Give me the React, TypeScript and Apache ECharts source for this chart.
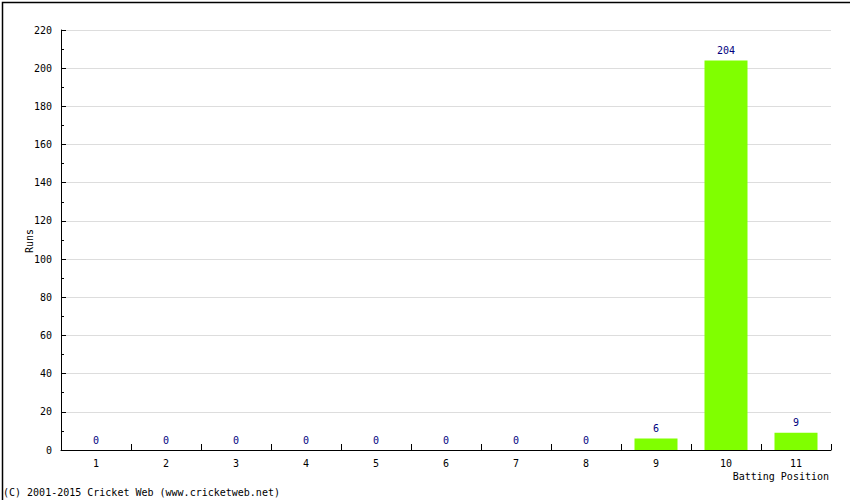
import React, { useEffect, useRef } from "react";
import * as echarts from "echarts";

const categories = ["1", "2", "3", "4", "5", "6", "7", "8", "9", "10", "11"];
const runs = [0, 0, 0, 0, 0, 0, 0, 0, 6, 204, 9];
const yTicks = { min: 0, max: 220, interval: 20 };

const FONT = "DejaVu Sans Mono";

export default function App() {
  const ref = useRef<HTMLDivElement>(null);
  useEffect(() => {
    if (!ref.current) return;
    const chart = echarts.init(ref.current, null, { renderer: "svg" });
    chart.setOption({
      animation: false,
      backgroundColor: "#ffffff",
      textStyle: { fontFamily: FONT, fontSize: 10 },
      grid: { left: 61, right: 19, top: 30, bottom: 50, containLabel: false },
      xAxis: {
        type: "category",
        data: categories,
        boundaryGap: true,
        axisLine: { show: true, lineStyle: { color: "#000", width: 1 } },
        axisTick: { show: true, inside: true, length: 6, alignWithLabel: false, lineStyle: { color: "#000" } },
        axisLabel: { color: "#000", fontFamily: FONT, fontSize: 10, margin: 8 },
        splitLine: { show: false },
      },
      yAxis: {
        type: "value",
        min: yTicks.min,
        max: yTicks.max,
        interval: yTicks.interval,
        axisLine: { show: true, lineStyle: { color: "#000", width: 1 } },
        axisTick: { show: true, inside: true, length: 5, lineStyle: { color: "#000" } },
        minorTick: { show: true, splitNumber: 2, length: 3, lineStyle: { color: "#000" } },
        axisLabel: { color: "#000", fontFamily: FONT, fontSize: 10, margin: 9 },
        splitLine: { show: true, lineStyle: { color: "#dddddd", width: 1 } },
      },
      series: [
        {
          type: "bar",
          data: runs,
          barWidth: 43,
          itemStyle: { color: "#80ff00" },
          label: {
            show: true,
            position: "top",
            distance: 5,
            color: "#000080",
            fontFamily: FONT,
            fontSize: 10,
          },
        },
      ],
      graphic: [
        {
          type: "rect",
          left: 0,
          top: 0,
          shape: { x: 0, y: 0, width: 849, height: 499 },
          style: { fill: "none", stroke: "#000", lineWidth: 1.5 },
          silent: true,
        },
        {
          type: "text",
          x: 29,
          y: 241,
          rotation: Math.PI / 2,
          style: {
            text: "Runs",
            fill: "#000",
            font: `10px "${FONT}"`,
            align: "center",
            verticalAlign: "middle",
          },
        },
        {
          type: "text",
          right: 21,
          top: 471,
          style: { text: "Batting Position", fill: "#000", font: `10px "${FONT}"` },
        },
        {
          type: "text",
          left: 3,
          top: 487,
          style: { text: "(C) 2001-2015 Cricket Web (www.cricketweb.net)", fill: "#000", font: `10px "${FONT}"` },
        },
      ],
    });
    return () => chart.dispose();
  }, []);
  return (
    <div
      ref={ref}
      style={{ position: "fixed", left: 0, top: 0, width: 850, height: 500 }}
    />
  );
}
